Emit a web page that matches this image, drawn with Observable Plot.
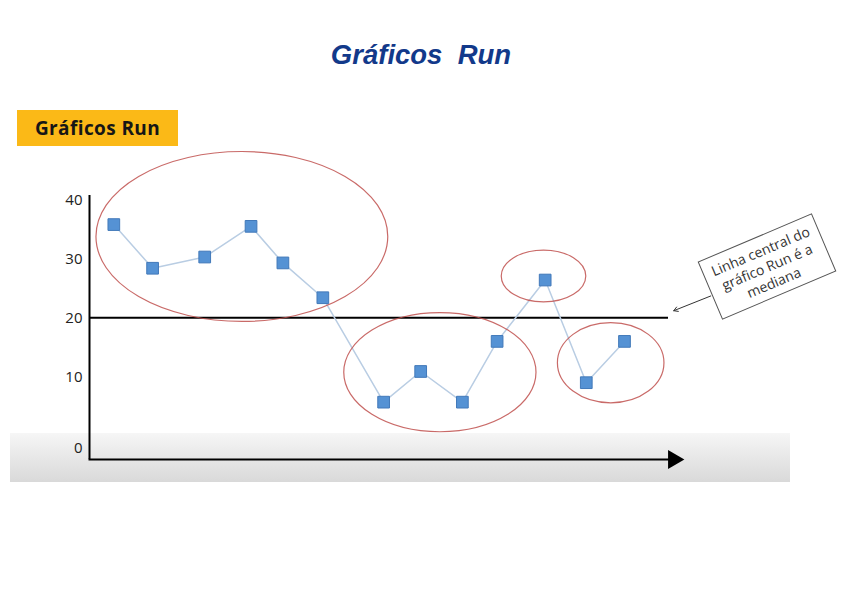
<!DOCTYPE html>
<html>
<head>
<meta charset="utf-8">
<script src="https://cdn.jsdelivr.net/npm/d3@7"></script>
<script src="https://cdn.jsdelivr.net/npm/@observablehq/plot@0.6"></script>
<style>
  body { margin: 0; background: #fff; }
  #page { position: relative; width: 842px; height: 595px; overflow: hidden; }
  #title { position: absolute; left: 0; top: 41px; width: 842px; text-align: center;
    font: italic bold 27.5px/27px "Liberation Sans", Arial, sans-serif; color: #12398a; white-space: pre; }
  #band { position: absolute; left: 10px; top: 433px; width: 780px; height: 49px;
    background: linear-gradient(to bottom, #f6f6f6, #d9d9d9); }
  #chart { position: absolute; left: 0; top: 100px; }
  #tag { position: absolute; left: 17px; top: 110px; width: 161px; height: 36px; background: #fbb917;
    display: flex; align-items: center; justify-content: center;
    font: bold 19px "Open Sans", sans-serif; letter-spacing: 0.4px; color: #161616; }
  #callout { position: absolute; left: 704.5px; top: 234.75px; width: 124px; height: 63px; box-sizing: border-box;
    border: 1px solid #555; background: #fff; transform: rotate(-23deg);
    display: flex; align-items: center; justify-content: center; text-align: center;
    font: 14px/17px "Open Sans", sans-serif; color: #333; }
</style>
</head>
<body>
<div id="page">
  <div id="title">Gráficos  Run</div>
  <div id="band"></div>
  <div id="chart"></div>
  <div id="tag">Gráficos Run</div>
  <div id="callout">Linha central do<br>gráfico Run é a<br>mediana</div>
</div>
<script>
// Observation positions along the time axis (0–100) and their values
const obsX   = [4.2, 10.9, 19.9, 27.9, 33.4, 40.3, 50.8, 57.2, 64.4, 70.4, 78.7, 85.8, 92.4];
const values = [35.8, 28.4, 30.3, 35.5, 29.3, 23.4, 5.7, 10.9, 5.7, 16.0, 26.4, 9.0, 16.0];
const yTicksUpper = [10, 20, 30, 40];
const yTickZero = [0];
const centerLine = 20;          // linha central (mediana)
const centerLineEndX = 100;

// run groups highlighted with ellipses (centre and radii in data units)
const runCx = [26.4, 60.6, 78.5, 90.1];
const runCy = [33.7, 10.7, 27.0, 12.3];
const runRx = [25.2, 16.6, 7.3, 9.2];
const runRy = [14.4, 10.1, 4.4, 6.8];

// callout arrow pointing at the centre line
const calloutArrow = [{x1: 107.3, y1: 23.7, x2: 100.9, y2: 21.2}];

const data = obsX.map((x, i) => ({t: x, v: values[i]}));

const tickStyle = {tickSize: 0, tickPadding: 7, fontSize: 15, fill: "#222", label: null};

const plot = Plot.plot({
  width: 842,
  height: 495,
  marginLeft: 89,
  marginRight: 174,
  marginTop: 95,
  marginBottom: 136,
  style: {background: "transparent", overflow: "visible", fontFamily: "Open Sans", fontSize: "15px", color: "#222"},
  x: {domain: [0, 100], axis: null},
  y: {domain: [-4.02, 40.73]},
  marks: [
    Plot.axisY(yTicksUpper, tickStyle),
    Plot.axisY(yTickZero, {...tickStyle, dy: 12}),
    Plot.ruleX([0], {stroke: "#000", strokeWidth: 2}),
    Plot.frame({anchor: "bottom", stroke: "#000", strokeWidth: 2}),
    Plot.dot([0], {frameAnchor: "bottom-right", symbol: "triangle", rotate: 90, r: 7, fill: "#000", stroke: null, dx: 5}),
    Plot.ruleY([centerLine], {x1: 0, x2: centerLineEndX, stroke: "#000", strokeWidth: 2}),
    Plot.line(data, {x: "t", y: "v", stroke: "#b9cde3", strokeWidth: 1.5}),
    Plot.dot(data, {x: "t", y: "v", symbol: "square", r: 6.6, fill: "#5592d4", stroke: "#4279b9", strokeWidth: 1}),
    Plot.arrow(calloutArrow, {x1: "x1", y1: "y1", x2: "x2", y2: "y2", stroke: "#333", strokeWidth: 1, headLength: 7})
  ]
});

document.getElementById("chart").appendChild(plot);

// ellipses around the runs, placed through the plot's own scales
const sx = plot.scale("x"), sy = plot.scale("y");
const g = d3.select(plot).append("g").attr("fill", "none").attr("stroke", "#c0504d").attr("stroke-opacity", 0.85).attr("stroke-width", 1.2);
runCx.forEach((cx, i) => {
  const px = sx.apply(cx), py = sy.apply(runCy[i]);
  g.append("ellipse")
    .attr("cx", px).attr("cy", py)
    .attr("rx", sx.apply(cx + runRx[i]) - px)
    .attr("ry", py - sy.apply(runCy[i] + runRy[i]));
});
</script>
</body>
</html>
